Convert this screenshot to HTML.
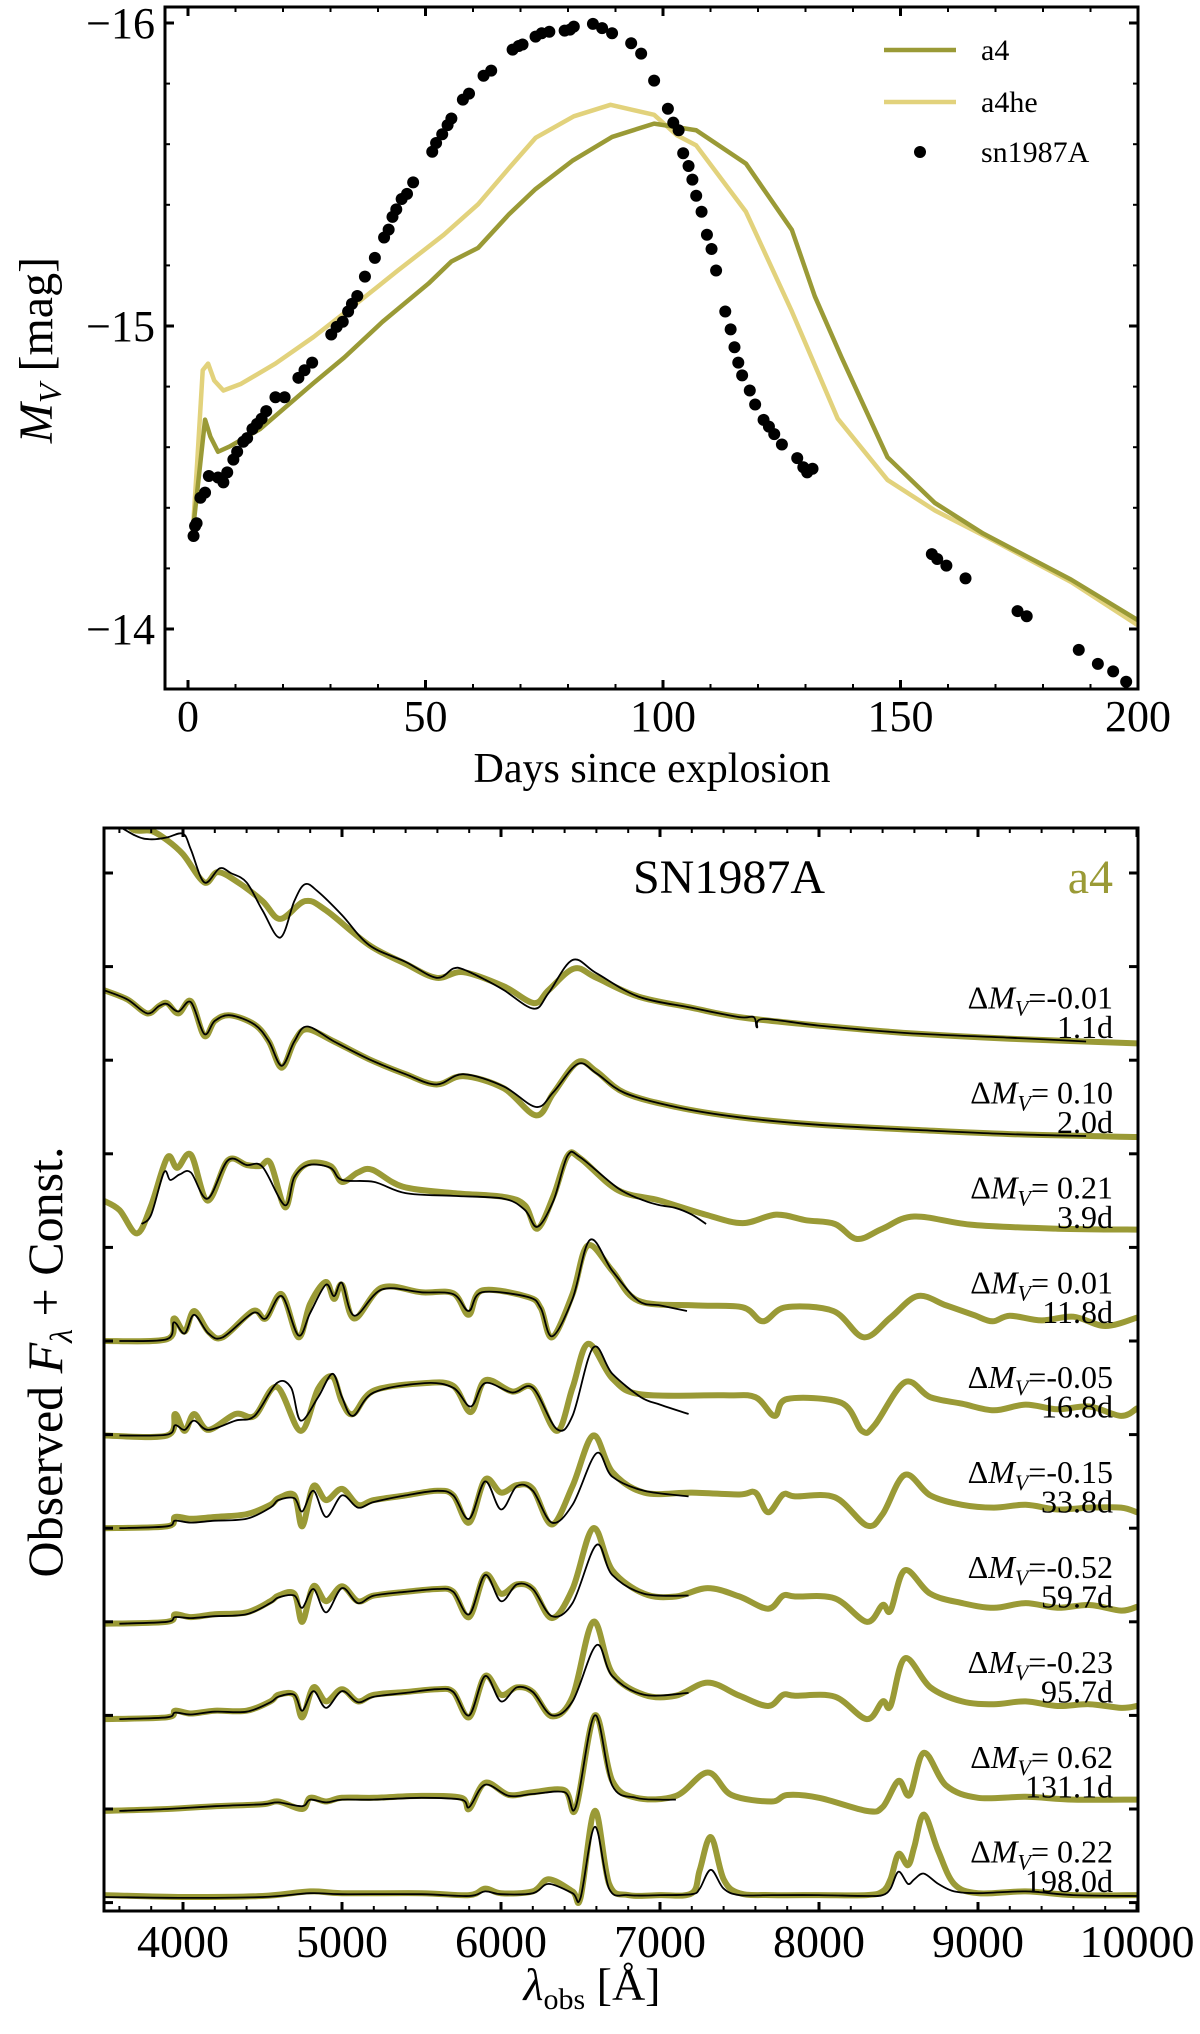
<!DOCTYPE html>
<html><head><meta charset="utf-8"><style>
html,body{margin:0;padding:0;background:#fff;}
svg{display:block;font-family:"Liberation Serif",serif;}
</style></head><body>
<svg id="fig" width="1200" height="2034" viewBox="0 0 1200 2034" xmlns="http://www.w3.org/2000/svg">
<defs>
<clipPath id="clipTop"><rect x="165" y="7" width="973" height="682"/></clipPath>
<clipPath id="clipBot"><rect x="104" y="828" width="1034" height="1083"/></clipPath>
</defs>
<g id="topPanel"></g>
<g id="botPanel"></g>
<text x="652" y="782" font-size="42" text-anchor="middle">Days since explosion</text>
<text transform="translate(52,350) rotate(-90)" font-size="48" text-anchor="middle"><tspan font-style="italic">M</tspan><tspan font-style="italic" font-size="32" dy="9">V</tspan><tspan dy="-9"> [mag]</tspan></text>
<g font-size="30">
<line x1="884" x2="956" y1="50" y2="50" stroke="#9a9a36" stroke-width="4.5"/>
<text x="981" y="60">a4</text>
<line x1="884" x2="956" y1="102" y2="102" stroke="#e2d27c" stroke-width="4.5"/>
<text x="981" y="112">a4he</text>
<circle cx="920" cy="152" r="6"/>
<text x="981" y="162">sn1987A</text>
</g>
<text x="729" y="893" font-size="48" text-anchor="middle">SN1987A</text>
<text x="1113" y="893" font-size="48" text-anchor="end" fill="#9a9a36">a4</text>
<text x="592" y="2000" font-size="46" text-anchor="middle"><tspan font-style="italic">λ</tspan><tspan font-size="30" dy="9">obs</tspan><tspan dy="-9"> [Å]</tspan></text>
<text transform="translate(62,1362) rotate(-90)" font-size="50" text-anchor="middle">Observed <tspan font-style="italic">F</tspan><tspan font-style="italic" font-size="32" dy="10">λ</tspan><tspan dy="-10"> + Const.</tspan></text>
</svg>
<script>
// ---------- light curve data ----------
const snDays=[1.17,1.49,1.81,2.62,3.59,4.39,6.32,7.45,8.26,9.55,10.35,11.64,12.45,13.57,14.54,15.5,16.47,18.41,20.34,23.24,24.53,26.14,30.16,31.29,32.58,33.71,34.51,35.64,37.25,39.34,41.28,42.24,43.05,43.85,44.98,46.11,47.4,51.42,52.23,53.52,54.65,55.45,57.87,59.16,62.22,63.83,68.34,69.62,70.43,73.17,74.46,76.07,79.29,80.42,81.22,85.25,87.18,89.28,93.3,95.4,98.13,101.03,102.16,103.29,104.25,105.38,106.19,106.99,108.12,109.25,110.22,111.18,113.11,114.24,115.05,115.85,116.66,118.27,119.4,121.17,122.3,123.42,125.03,128.26,129.54,130.35,131.48,156.6,157.73,159.66,163.69,174.64,176.57,187.53,191.55,194.77,197.51];
const snMag=[-14.307,-14.34,-14.349,-14.433,-14.45,-14.505,-14.5,-14.484,-14.517,-14.559,-14.585,-14.618,-14.63,-14.66,-14.677,-14.694,-14.719,-14.765,-14.765,-14.829,-14.854,-14.879,-14.972,-14.997,-15.014,-15.048,-15.073,-15.099,-15.163,-15.225,-15.292,-15.318,-15.36,-15.385,-15.419,-15.436,-15.474,-15.575,-15.604,-15.633,-15.663,-15.685,-15.747,-15.767,-15.826,-15.843,-15.912,-15.924,-15.929,-15.955,-15.966,-15.971,-15.975,-15.978,-15.988,-15.997,-15.983,-15.966,-15.933,-15.899,-15.81,-15.717,-15.671,-15.646,-15.57,-15.528,-15.483,-15.43,-15.377,-15.301,-15.254,-15.183,-15.048,-14.989,-14.93,-14.879,-14.837,-14.787,-14.741,-14.69,-14.668,-14.643,-14.609,-14.564,-14.534,-14.517,-14.529,-14.247,-14.231,-14.209,-14.167,-14.059,-14.042,-13.931,-13.885,-13.86,-13.826];
const a4Days=[1.01,1.97,3.59,4.71,6.32,8.74,15.18,26.46,32.9,40.96,50.62,55.45,61.09,67.53,73.17,80.9,89.28,98.13,102.16,106.99,117.46,127.13,131.96,137.6,147.26,157.25,167.4,185.92,200.09];
const a4Mag=[-14.323,-14.458,-14.691,-14.635,-14.585,-14.602,-14.66,-14.812,-14.896,-15.014,-15.14,-15.213,-15.258,-15.368,-15.452,-15.545,-15.624,-15.668,-15.658,-15.646,-15.536,-15.317,-15.098,-14.896,-14.567,-14.416,-14.315,-14.163,-14.028];
const a4heDays=[1.01,1.97,3.1,4.23,5.52,7.45,11.16,18.41,26.46,36.12,44.18,53.84,61.09,67.53,73.17,81.22,88.95,98.13,102.97,106.99,117.46,127.13,136.79,147.26,157.25,169.81,185.92,200.09];
const a4heMag=[-14.323,-14.559,-14.854,-14.876,-14.82,-14.787,-14.809,-14.876,-14.964,-15.082,-15.183,-15.301,-15.402,-15.52,-15.621,-15.692,-15.73,-15.697,-15.629,-15.596,-15.377,-15.048,-14.694,-14.492,-14.391,-14.29,-14.155,-14.011];
const topXTicks=[0,50,100,150,200];
const topYTicks=[-16,-15,-14];
const topYTickLabels=["\u221216","\u221215","\u221214"];

// ---------- spectra data (flux relative to offset) ----------
const specOffsets=[9,8,7,6,5,4,3,2,1,0];
const specDMV=["-0.01","\u00a00.10","\u00a00.21","\u00a00.01","-0.05","-0.15","-0.52","-0.23","\u00a00.62","\u00a00.22"];
const specEpoch=["1.1d","2.0d","3.9d","11.8d","16.8d","33.8d","59.7d","95.7d","131.1d","198.0d"];
const botXTicks=[4000,5000,6000,7000,8000,9000,10000];
const W7=[3500,3900,3950,4050,4200,4400,4550,4600,4700,4750,4820,4900,5000,5100,5200,5400,5600,5700,5800,5900,6000,6100,6200,6320,6450,6580,6700,6900,7100,7300,7500,7680,7774,7850,8100,8300,8400,8450,8540,8700,8900,9100,9300,9500,9700,9900,10000];
const W7o=[3600,3900,3950,4050,4200,4400,4550,4600,4700,4750,4820,4900,5000,5100,5200,5400,5600,5700,5800,5900,6000,6100,6200,6320,6450,6600,6700,6900,7180];
const modelWave=[
[3500,3600,3689,3800,3900,4000,4134,4219,4346,4500,4612,4768,4900,5171,5400,5594,5763,6017,6207,6300,6461,6600,6864,7200,7498,8000,8557,9200,10000],
[3500,3650,3774,3850,3900,3971,4050,4134,4200,4297,4451,4540,4621,4700,4780,4950,5171,5400,5594,5763,6017,6221,6330,6483,6600,6779,7100,7498,8000,8557,9200,10000],
[3500,3600,3711,3800,3901,3964,4050,4155,4282,4400,4486,4550,4641,4700,4790,4927,5000,5100,5190,5382,5700,6017,6150,6229,6330,6419,6500,6737,7000,7286,7520,7730,7920,8100,8239,8400,8599,8970,9500,10000],
[3500,3900,3943,4010,4070,4160,4250,4440,4520,4621,4726,4800,4898,4950,5000,5078,5250,5500,5700,5797,5880,6170,6250,6322,6450,6546,6700,6864,7220,7520,7647,7790,8090,8281,8450,8620,8800,8970,9090,9200,9400,9600,9800,10000],
[3500,3900,3950,4010,4070,4160,4330,4450,4590,4740,4850,4940,5000,5070,5200,5520,5700,5810,5900,6070,6200,6350,6450,6548,6700,6880,7400,7600,7720,7800,8140,8270,8350,8540,8700,8900,9100,9300,9500,9700,9900,10000],
[3500,3900,3950,4050,4200,4400,4550,4600,4700,4750,4820,4900,5000,5100,5200,5400,5600,5700,5800,5900,6000,6100,6200,6320,6450,6580,6700,6900,7200,7500,7600,7680,7774,7850,8100,8300,8400,8540,8700,8900,9100,9300,9500,9700,9900,10000],
W7, W7,
[3500,3900,4200,4500,4600,4750,4800,4900,5000,5200,5500,5750,5800,5900,6050,6200,6400,6470,6590,6700,6850,7100,7300,7450,7700,7800,8000,8300,8400,8500,8570,8660,8800,9000,9300,9600,10000],
[3500,4000,4500,4800,5000,5500,5800,5900,6000,6200,6300,6450,6500,6590,6680,6800,7000,7200,7250,7320,7400,7500,7700,8000,8300,8400,8450,8500,8560,8600,8660,8750,8850,9000,9300,9600,10000]
];
const modelFlux=[
[2.6,2.6,2.46,2.45,2.35,2.2,1.9,2.01,1.9,1.7,1.51,1.7,1.6,1.23,1.03,0.88,0.94,0.79,0.61,0.75,0.98,0.88,0.68,0.56,0.46,0.37,0.29,0.23,0.18],
[1.75,1.65,1.5,1.58,1.61,1.5,1.63,1.26,1.42,1.48,1.38,1.2,0.92,1.2,1.33,1.2,1.01,0.85,0.74,0.83,0.7,0.41,0.65,0.98,0.88,0.65,0.5,0.39,0.31,0.26,0.21,0.18],
[0.5,0.4,0.15,0.45,0.96,0.85,0.99,0.5,0.93,0.88,0.87,0.9,0.43,0.75,0.9,0.87,0.7,0.8,0.83,0.65,0.58,0.54,0.45,0.2,0.55,0.98,0.95,0.61,0.5,0.35,0.26,0.35,0.29,0.25,0.09,0.2,0.33,0.24,0.2,0.19],
[0,0.02,0.24,0.1,0.32,0.1,0.04,0.32,0.24,0.5,0.04,0.4,0.63,0.45,0.6,0.24,0.57,0.52,0.51,0.28,0.54,0.47,0.35,0.04,0.5,1.02,0.75,0.43,0.38,0.36,0.21,0.36,0.32,0.04,0.25,0.48,0.38,0.28,0.21,0.27,0.22,0.26,0.16,0.25],
[-0.01,-0.01,0.22,0.04,0.22,0.05,0.22,0.2,0.51,0.04,0.49,0.62,0.35,0.22,0.47,0.55,0.52,0.24,0.58,0.46,0.5,0.04,0.5,0.97,0.6,0.43,0.42,0.4,0.2,0.38,0.34,0.04,0.1,0.56,0.4,0.33,0.26,0.32,0.27,0.3,0.2,0.28],
[0,0.02,0.12,0.1,0.12,0.15,0.25,0.32,0.35,0.02,0.45,0.3,0.42,0.25,0.3,0.35,0.4,0.35,0.06,0.52,0.38,0.46,0.42,0.04,0.45,0.99,0.6,0.38,0.38,0.36,0.38,0.17,0.36,0.34,0.33,0.03,0.15,0.57,0.35,0.25,0.22,0.25,0.2,0.22,0.22,0.17],
[-0.02,0,0.08,0.05,0.08,0.1,0.22,0.28,0.3,0,0.38,0.22,0.38,0.22,0.28,0.32,0.35,0.32,0.05,0.5,0.3,0.4,0.35,0.04,0.35,1.0,0.55,0.3,0.27,0.36,0.27,0.14,0.28,0.27,0.25,0,0.18,0.12,0.55,0.3,0.2,0.15,0.2,0.15,0.18,0.12,0.16],
[-0.04,-0.02,0.05,0.02,0.05,0.05,0.15,0.22,0.22,-0.02,0.3,0.15,0.28,0.15,0.22,0.25,0.28,0.25,-0.02,0.42,0.22,0.3,0.25,-0.01,0.2,1.0,0.45,0.22,0.21,0.35,0.21,0.1,0.22,0.21,0.2,-0.04,0.15,0.1,0.61,0.3,0.15,0.12,0.15,0.1,0.12,0.08,0.1],
[-0.02,0,0.03,0.05,0.08,0,0.12,0.08,0.12,0.12,0.14,0.12,0,0.28,0.15,0.18,0.2,0,1.0,0.3,0.12,0.14,0.39,0.15,0.08,0.15,0.12,-0.02,0.02,0.3,0.15,0.6,0.25,0.12,0.13,0.1,0.1],
[0.08,0.06,0.07,0.12,0.1,0.1,0.08,0.15,0.1,0.12,0.25,0.12,0.05,0.98,0.2,0.08,0.08,0.1,0.35,0.7,0.25,0.1,0.08,0.08,0.08,0.12,0.25,0.52,0.4,0.6,0.94,0.55,0.2,0.1,0.12,0.08,0.08]
];
const obsWave=[
[3500,3700,3800,3900,4000,4050,4134,4230,4300,4400,4500,4612,4700,4768,4850,5000,5171,5400,5594,5700,5763,5900,6017,6207,6300,6450,6600,6864,7200,7498,7590,7610,7650,8000,8557,9200,9680],
[3500,3650,3774,3850,3900,3971,4050,4134,4200,4297,4451,4540,4621,4700,4780,4950,5171,5400,5594,5763,6017,6221,6330,6483,6600,6779,7100,7498,8000,8557,9200,9680],
[3740,3800,3880,3920,3980,4050,4155,4282,4400,4500,4641,4700,4790,4927,5000,5200,5400,5700,6017,6150,6229,6330,6419,6500,6737,6900,7000,7100,7200,7290],
[3600,3900,3943,4010,4070,4160,4250,4440,4520,4621,4726,4800,4898,4950,5000,5078,5250,5500,5700,5797,5880,6170,6250,6322,6450,6560,6700,6864,7000,7170],
[3600,3900,3950,4010,4070,4160,4330,4450,4590,4680,4740,4850,4940,5000,5070,5200,5520,5700,5810,5900,6070,6200,6350,6450,6580,6700,6880,7000,7180],
W7o, W7o, W7o,
[3600,3900,4200,4500,4600,4750,4800,4900,5000,5200,5500,5750,5800,5900,6050,6200,6400,6470,6590,6700,6850,7000,7100],
[3500,4000,4500,4800,5000,5500,5800,5900,6000,6200,6300,6450,6500,6590,6680,6800,7000,7200,7250,7320,7400,7500,7700,8000,8300,8400,8450,8500,8560,8600,8660,8750,8850,9000,9300,9600,10000]
];
const obsFlux=[
[2.6,2.4,2.36,2.38,2.42,2.25,1.9,2.05,2.0,1.9,1.6,1.31,1.7,1.88,1.8,1.55,1.23,1.05,0.88,0.98,0.97,0.86,0.75,0.55,0.72,1.07,0.93,0.68,0.56,0.46,0.46,0.35,0.44,0.37,0.29,0.24,0.2],
[1.75,1.65,1.5,1.58,1.6,1.52,1.62,1.28,1.42,1.48,1.38,1.2,0.94,1.2,1.36,1.2,1.01,0.85,0.74,0.85,0.72,0.5,0.66,0.96,0.86,0.65,0.5,0.39,0.31,0.26,0.21,0.19],
[0.25,0.35,0.8,0.72,0.78,0.8,0.52,0.93,0.88,0.86,0.45,0.75,0.88,0.85,0.72,0.7,0.58,0.55,0.52,0.4,0.22,0.5,0.98,0.96,0.63,0.5,0.45,0.42,0.35,0.25],
[0,0.02,0.2,0.08,0.28,0.08,0.04,0.3,0.24,0.48,0.06,0.3,0.6,0.48,0.62,0.27,0.55,0.52,0.5,0.32,0.52,0.47,0.35,0.05,0.45,1.08,0.75,0.43,0.38,0.32],
[-0.01,0,0.1,0.05,0.15,0.05,0.15,0.2,0.55,0.5,0.15,0.4,0.65,0.4,0.2,0.45,0.55,0.5,0.3,0.55,0.45,0.5,0.06,0.2,0.93,0.65,0.4,0.32,0.22],
[0,0.02,0.08,0.06,0.08,0.1,0.22,0.3,0.32,0.18,0.4,0.12,0.35,0.22,0.28,0.35,0.4,0.35,0.1,0.5,0.2,0.45,0.4,0.06,0.25,0.8,0.55,0.4,0.34],
[-0.02,0,0.05,0.04,0.06,0.08,0.2,0.26,0.28,0.15,0.35,0.1,0.36,0.2,0.28,0.32,0.35,0.32,0.08,0.5,0.22,0.4,0.35,0.06,0.2,0.82,0.5,0.3,0.28],
[-0.04,-0.02,0.03,0.01,0.04,0.04,0.14,0.2,0.22,0.05,0.26,0.08,0.26,0.14,0.2,0.24,0.28,0.25,0,0.42,0.15,0.3,0.25,0,0.15,0.75,0.42,0.22,0.24],
[-0.02,0,0.03,0.05,0.07,0.03,0.1,0.07,0.1,0.1,0.12,0.1,0.02,0.26,0.14,0.16,0.18,0.02,1.0,0.25,0.12,0.1,0.1],
[0.06,0.05,0.06,0.1,0.09,0.09,0.07,0.12,0.09,0.1,0.2,0.1,0.05,0.81,0.15,0.08,0.08,0.09,0.15,0.35,0.15,0.08,0.08,0.08,0.07,0.08,0.15,0.33,0.2,0.25,0.31,0.2,0.12,0.1,0.12,0.08,0.07]
];

// ---------- scales ----------
const NS="http://www.w3.org/2000/svg";
function xT(d){return 188+d*4.75;}
function yT(m){return 23+(m+16)*303;}
function xB(l){return 183+(l-4000)*0.159;}
function yB(v){return 1902.6-v*93.6;}
function mk(tag,attrs,parent){const e=document.createElementNS(NS,tag);for(const k in attrs)e.setAttribute(k,attrs[k]);parent.appendChild(e);return e;}
function smoothPath(pts){ // Catmull-Rom -> cubic Bezier
 let d='M'+pts[0][0].toFixed(1)+','+pts[0][1].toFixed(1);
 for(let i=0;i<pts.length-1;i++){
  const p0=pts[Math.max(0,i-1)],p1=pts[i],p2=pts[i+1],p3=pts[Math.min(pts.length-1,i+2)];
  const c1x=p1[0]+(p2[0]-p0[0])/6,c1y=p1[1]+(p2[1]-p0[1])/6;
  const c2x=p2[0]-(p3[0]-p1[0])/6,c2y=p2[1]-(p3[1]-p1[1])/6;
  d+=' C'+c1x.toFixed(1)+','+c1y.toFixed(1)+' '+c2x.toFixed(1)+','+c2y.toFixed(1)+' '+p2[0].toFixed(1)+','+p2[1].toFixed(1);
 }
 return d;
}
const OLIVE="#9a9a36", LIGHT="#e2d27c";

// ---------- top panel ----------
const topG=document.getElementById('topPanel');
const topClip=mk('g',{'clip-path':'url(#clipTop)'},topG);
const p1=mk('polyline',{points:a4heDays.map((d,i)=>xT(d)+','+yT(a4heMag[i])).join(' '),fill:'none',stroke:LIGHT,'stroke-width':4.5,'stroke-linejoin':'round'},topClip);


const p2=mk('polyline',{points:a4Days.map((d,i)=>xT(d)+','+yT(a4Mag[i])).join(' '),fill:'none',stroke:OLIVE,'stroke-width':4.5,'stroke-linejoin':'round'},topClip);


const dots=mk('g',{},topClip);


snDays.forEach((d,i)=>{const c=mk('circle',{cx:xT(d),cy:yT(snMag[i]),r:6,fill:'#000'},dots);

});
const fr=mk('rect',{x:165,y:7,width:973,height:682,fill:'none',stroke:'#000','stroke-width':3},topG);


for(let d=0;d<=200;d+=10){const major=d%50===0;const L=major?9:5;const x=xT(d);
 mk('line',{x1:x,x2:x,y1:689,y2:689-L,stroke:'#000','stroke-width':major?3:2},topG);
 mk('line',{x1:x,x2:x,y1:7,y2:7+L,stroke:'#000','stroke-width':major?3:2},topG);}
for(let k=0;k<=11;k++){const m=-16+k*0.2;const major=k%5===0;const L=major?9:5;const y=yT(m);if(y>689)continue;
 mk('line',{x1:165,x2:165+L,y1:y,y2:y,stroke:'#000','stroke-width':major?3:2},topG);
 mk('line',{x1:1138,x2:1138-L,y1:y,y2:y,stroke:'#000','stroke-width':major?3:2},topG);}
topXTicks.forEach(d=>{const t=mk('text',{x:xT(d),y:731,'font-size':44,'text-anchor':'middle'},topG);t.textContent=d;

});
topYTicks.forEach((m,i)=>{const t=mk('text',{x:155,y:yT(m)+15,'font-size':44,'text-anchor':'end'},topG);t.textContent=topYTickLabels[i];

});

// ---------- bottom panel ----------
const botG=document.getElementById('botPanel');
const botClip=mk('g',{'clip-path':'url(#clipBot)'},botG);
for(let i=0;i<10;i++){
 const off=specOffsets[i];
 const mp=mk('path',{d:smoothPath(modelWave[i].map((l,j)=>[xB(l),yB(modelFlux[i][j]+off)])),fill:'none',stroke:OLIVE,'stroke-width':6,'stroke-linejoin':'round','stroke-linecap':'round'},botClip);
 
 
 const op=mk('path',{d:smoothPath(obsWave[i].map((l,j)=>[xB(l),yB(obsFlux[i][j]+off)])),fill:'none',stroke:'#000','stroke-width':1.8,'stroke-linejoin':'round'},botClip);
 
 
 const yl=1008.6+i*94.9;
 const t1=mk('text',{x:1113,y:yl,'font-size':32,'text-anchor':'end'},botG);
 
 
 const s0=mk('tspan',{},t1); s0.textContent='Δ';
 const s1=mk('tspan',{'font-style':'italic'},t1); s1.textContent='M';
 const s2=mk('tspan',{'font-style':'italic','font-size':22,dy:7},t1); s2.textContent='V';
 const s3=mk('tspan',{dy:-7},t1); s3.textContent='='+specDMV[i];
 const t2=mk('text',{x:1113,y:yl+29.5,'font-size':32,'text-anchor':'end'},botG);
 
 
 t2.textContent=specEpoch[i];
}
const fr2=mk('rect',{x:104,y:828,width:1034,height:1083,fill:'none',stroke:'#000','stroke-width':3},botG);


for(let l=3600;l<=10000;l+=200){const major=l%1000===0;const L=major?9:5;const x=xB(l);
 mk('line',{x1:x,x2:x,y1:1911,y2:1911-L,stroke:'#000','stroke-width':major?3:2},botG);
 mk('line',{x1:x,x2:x,y1:828,y2:828+L,stroke:'#000','stroke-width':major?3:2},botG);}
for(let v=0;v<=11;v++){const y=yB(v);
 mk('line',{x1:104,x2:113,y1:y,y2:y,stroke:'#000','stroke-width':3},botG);
 mk('line',{x1:1138,x2:1129,y1:y,y2:y,stroke:'#000','stroke-width':3},botG);}
botXTicks.forEach(l=>{const t=mk('text',{x:xB(l),y:1957,'font-size':46,'text-anchor':'middle'},botG);t.textContent=l;

});
</script>
</body></html>
